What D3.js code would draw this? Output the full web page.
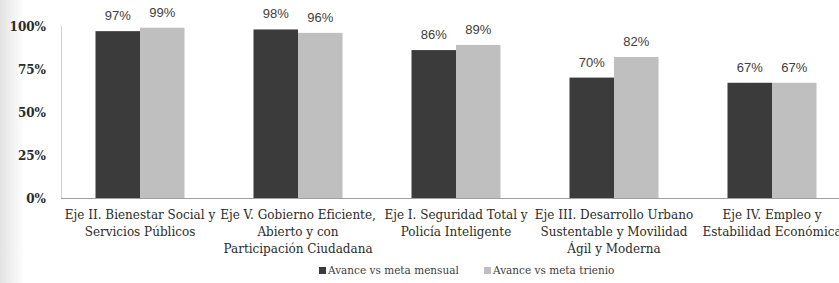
<!DOCTYPE html>
<html lang="es">
<head>
<meta charset="UTF-8">
<title>Avance por eje</title>
<script src="https://d3js.org/d3.v7.min.js"></script>
<style>
  body { margin: 0; background: #fff; }
</style>
</head>
<body>
<script>
// datos
var categories = [
    ["Eje II. Bienestar Social y", "Servicios Públicos"],
    ["Eje V. Gobierno Eficiente,", "Abierto y con", "Participación Ciudadana"],
    ["Eje I. Seguridad Total y", "Policía Inteligente"],
    ["Eje III. Desarrollo Urbano", "Sustentable y Movilidad", "Ágil y Moderna"],
    ["Eje IV. Empleo y", "Estabilidad Económica"]
];
var mensual = [0.97, 0.98, 0.86, 0.70, 0.67];
var trienio = [0.99, 0.96, 0.89, 0.82, 0.67];
var seriesNames = ["Avance vs meta mensual", "Avance vs meta trienio"];
var yTicks = [0, 0.25, 0.5, 0.75, 1];

var width = 839, height = 283;
var colors = ["#3b3b3b", "#bfbfbf"];

var svg = d3.select("body").append("svg")
    .attr("width", width)
    .attr("height", height);

// sombra suave a la izquierda
var defs = svg.append("defs");
var grad = defs.append("linearGradient").attr("id", "shade");
grad.append("stop").attr("offset", "0%").attr("stop-color", "#e2e2e2");
grad.append("stop").attr("offset", "100%").attr("stop-color", "#ffffff");
svg.append("rect").attr("x", 0).attr("y", 0).attr("width", 24).attr("height", height)
    .attr("fill", "url(#shade)");

var mLeft = 61, mTop = 26, mBottom = 198;

var x = d3.scaleBand()
    .domain(d3.range(categories.length))
    .range([mLeft, mLeft + 158 * categories.length])
    .paddingInner(0).paddingOuter(0);

var y = d3.scaleLinear().domain([0, 1]).range([mBottom, mTop]);

// ejes
svg.append("line")
    .attr("x1", mLeft + 0.5).attr("x2", mLeft + 0.5)
    .attr("y1", mTop).attr("y2", mBottom)
    .attr("stroke", "#d0d0d0");

svg.append("line")
    .attr("x1", mLeft).attr("x2", width)
    .attr("y1", mBottom + 0.5).attr("y2", mBottom + 0.5)
    .attr("stroke", "#a0a0a0");

svg.append("g").selectAll("text")
    .data(yTicks)
    .enter().append("text")
    .attr("x", 46)
    .attr("y", function(d) { return y(d) + 5; })
    .attr("text-anchor", "end")
    .attr("font-family", "DejaVu Serif, serif")
    .attr("font-weight", "bold")
    .attr("font-size", 12)
    .attr("fill", "#2b2b2b")
    .text(d3.format(".0%"));

var barW = 44.5;
var data = [mensual, trienio];

var groups = svg.append("g").selectAll("g")
    .data(data)
    .enter().append("g")
    .attr("fill", function(d, i) { return colors[i]; });

groups.each(function(series, s) {
    var g = d3.select(this);
    g.selectAll("rect")
        .data(series)
        .enter().append("rect")
        .attr("x", function(d, i) { return x(i) + x.bandwidth() / 2 - barW + s * barW; })
        .attr("y", function(d) { return y(d); })
        .attr("width", barW)
        .attr("height", function(d) { return mBottom - y(d); });

    svg.append("g").selectAll("text")
        .data(series)
        .enter().append("text")
        .attr("x", function(d, i) { return x(i) + x.bandwidth() / 2 - barW / 2 + s * barW; })
        .attr("y", function(d) { return y(d) - 11; })
        .attr("text-anchor", "middle")
        .attr("font-family", "Liberation Sans, Arial, sans-serif")
        .attr("font-size", 13)
        .attr("fill", "#404040")
        .text(d3.format(".0%"));
});

// etiquetas de categoría
var labels = svg.append("g").selectAll("text")
    .data(categories)
    .enter().append("text")
    .attr("text-anchor", "middle")
    .attr("font-family", "DejaVu Serif, serif")
    .attr("font-size", 12)
    .attr("fill", "#2b2b2b")
    .attr("transform", function(d, i) { return "translate(" + (x(i) + x.bandwidth() / 2) + ",219)"; });

labels.selectAll("tspan")
    .data(function(d) { return d; })
    .enter().append("tspan")
    .attr("x", 0)
    .attr("dy", function(d, i) { return i === 0 ? 0 : 17; })
    .text(function(d) { return d; });

// leyenda
var legend = svg.append("g").selectAll("g")
    .data(seriesNames)
    .enter().append("g")
    .attr("transform", function(d, i) { return "translate(" + (319 + i * 165) + ",274)"; });

legend.append("rect")
    .attr("x", 0).attr("y", -7)
    .attr("width", 7).attr("height", 7)
    .attr("fill", function(d, i) { return colors[i]; });

legend.append("text")
    .attr("x", 9)
    .attr("y", 0)
    .attr("font-family", "DejaVu Serif, serif")
    .attr("font-size", 10.5)
    .attr("fill", "#404040")
    .text(function(d) { return d; });
</script>
</body>
</html>
